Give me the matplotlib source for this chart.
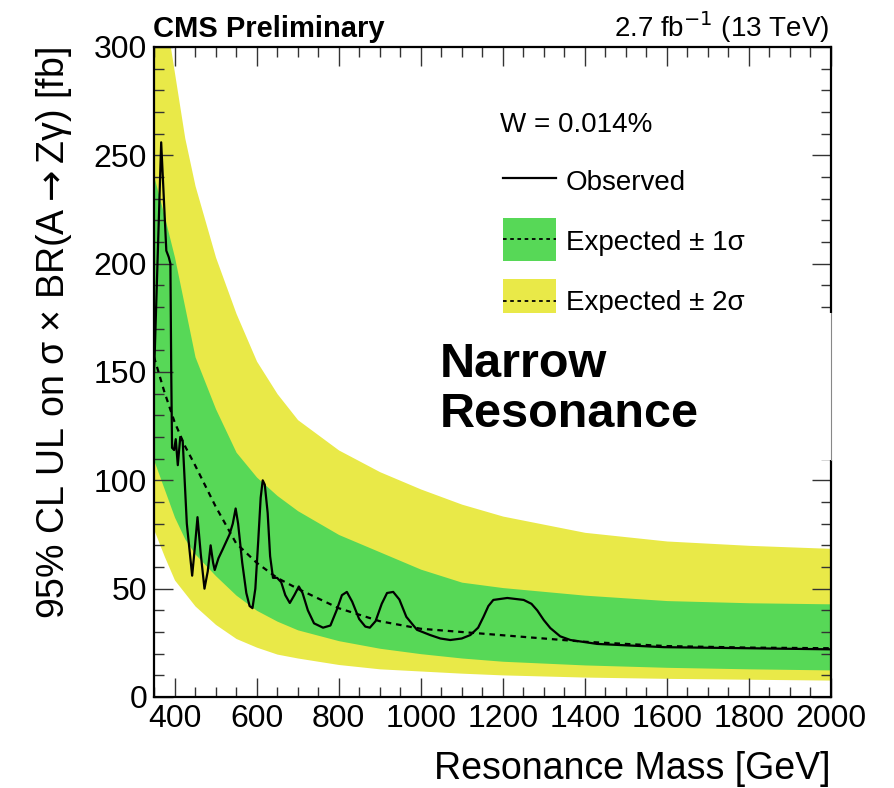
import matplotlib.pyplot as plt
from matplotlib.patches import Rectangle
from matplotlib.lines import Line2D
from matplotlib.ticker import MultipleLocator

plt.rcParams['font.family'] = ['Liberation Sans', 'DejaVu Sans']

# band / expected limits on a common mass grid (GeV, fb)
mass = [350, 375, 400, 425, 450, 500, 550, 600, 650, 700, 800, 900, 1000, 1100, 1200, 1400, 1600, 1800, 2000]
expected = [157, 141, 127, 116, 107, 88, 71, 62, 55, 50, 41, 35, 31.5, 30, 28.5, 25.5, 23.5, 22.8, 22.5]
up1 = [240, 222, 203, 180, 157, 133, 113, 101.5, 93, 86, 75, 67, 59, 53, 50.5, 47, 44.5, 43.5, 43]
dn1 = [109, 96, 83, 73, 66, 56, 47, 40, 35, 31, 26, 22.5, 20, 18, 16.5, 14.8, 13.7, 13, 12.5]
up2 = [345, 318, 288, 258, 236, 203, 177, 155, 140, 128, 114, 104, 96, 89, 83.5, 76, 72, 70, 68.6]
dn2 = [77, 65, 54, 48, 42, 33.5, 27, 23, 19.8, 18, 15, 13, 12, 11, 10.2, 9.2, 8.6, 8.2, 7.8]

# observed limit
obs_mass = [350, 352, 367.5, 380, 386, 390, 392, 394, 399, 403, 408, 414, 420, 430, 443, 450, 456,
            464, 473, 481, 488, 494, 498, 507, 517, 534, 542, 549, 555, 565, 575, 583, 590, 597,
            604, 610, 615, 620, 627, 633, 640, 650, 660, 670, 681, 692, 703, 712, 725, 740, 762,
            780, 795, 808, 820, 833, 850, 865, 876, 890, 905, 918, 933, 948, 965, 991, 1023, 1048,
            1072, 1100, 1121, 1140, 1153, 1165, 1177, 1211, 1251, 1270, 1284, 1300, 1316, 1340,
            1365, 1430, 1593, 1800, 2000]
obs = [150, 160, 256, 206, 203, 200, 150, 115, 114, 119, 107, 120, 118, 80, 56, 70, 83,
       66, 50, 58, 70, 62, 58.6, 64, 68, 75, 80, 87, 80, 62, 48, 42, 41, 50,
       72, 92, 100, 98, 85, 65, 55, 55, 53, 47, 43.4, 47, 51, 48, 40, 34, 32,
       33, 40, 47, 48.5, 44, 36, 32.5, 32, 35, 43, 48, 48.5, 45, 37, 31, 28.6, 27,
       26.3, 27, 28.6, 32, 37, 42, 44.8, 45.7, 44.8, 43, 40, 35.5, 31.8, 28,
       26.3, 24.5, 23, 22.5, 22]

green = '#57d857'
yellow = '#e9e948'

W, H = 894, 788
fig = plt.figure(figsize=(W / 100, H / 100), dpi=100)
ax = fig.add_axes([154 / W, 91 / H, 677 / W, 650 / H])


def fx(px):
    return px / W


def fy(py):
    return 1 - py / H


ax.fill_between(mass, dn2, up2, color=yellow, lw=0)
ax.fill_between(mass, dn1, up1, color=green, lw=0)
ax.plot(mass, expected, color='black', lw=1.6, ls=(0, (2.5, 2.2)))
ax.plot(obs_mass, obs, color='black', lw=1.6)

ax.set_xlim(350, 2000)
ax.set_ylim(0, 300)
ax.xaxis.set_major_locator(MultipleLocator(200))
ax.xaxis.set_minor_locator(MultipleLocator(50))
ax.yaxis.set_major_locator(MultipleLocator(50))
ax.yaxis.set_minor_locator(MultipleLocator(10))
ax.tick_params(which='both', direction='in', top=True, right=True, width=1, color='#333333')
ax.tick_params(which='major', length=14, labelsize=23, pad=5)
ax.tick_params(which='minor', length=7)
for s in ax.spines.values():
    s.set_linewidth(1.6)

ax.set_xlabel('Resonance Mass [GeV]', fontsize=27, loc='right', labelpad=12)
ax.set_ylabel('95% CL UL on σ × BR(A$\\rightarrow$Zγ) [fb]', fontsize=27, loc='top', labelpad=14)

fig.text(fx(153), fy(37), 'CMS Preliminary', fontsize=21, fontweight='bold', ha='left', va='baseline')
fig.text(fx(829), fy(37), '2.7 fb$^{-1}$ (13 TeV)', fontsize=20, ha='right', va='baseline')

# legend
fig.text(fx(500), fy(125), 'W = 0.014%', fontsize=20, va='center')
fig.add_artist(Line2D([fx(503), fx(556)], [fy(178), fy(178)], color='black', lw=1.6))
fig.text(fx(566), fy(183), 'Observed', fontsize=20, va='center')
fig.add_artist(Rectangle((fx(503), fy(261)), fx(53), 43 / H, color=green, lw=0))
fig.add_artist(Line2D([fx(503), fx(556)], [fy(239), fy(239)], color='black', lw=1.3, ls=(0, (2, 2))))
fig.text(fx(566), fy(243), 'Expected ± 1σ', fontsize=20, va='center')
fig.add_artist(Rectangle((fx(503), fy(325)), fx(53), 46 / H, color=yellow, lw=0))
fig.add_artist(Line2D([fx(503), fx(556)], [fy(301), fy(301)], color='black', lw=1.3, ls=(0, (2, 2))))
fig.text(fx(566), fy(303), 'Expected ± 2σ', fontsize=20, va='center')

# white box pasted over the plot with the annotation
fig.add_artist(Rectangle((fx(425), fy(460)), fx(420), 147 / H, color='white', lw=0, zorder=10))
fig.add_artist(Line2D([fx(831), fx(831)], [fy(460), fy(313)], color='#888888', lw=0.8, zorder=11))
fig.text(fx(440), fy(377), 'Narrow', fontsize=35, fontweight='bold', va='baseline', zorder=12)
fig.text(fx(440), fy(427), 'Resonance', fontsize=35, fontweight='bold', va='baseline', zorder=12)

fig.savefig('out.png', dpi=100)
